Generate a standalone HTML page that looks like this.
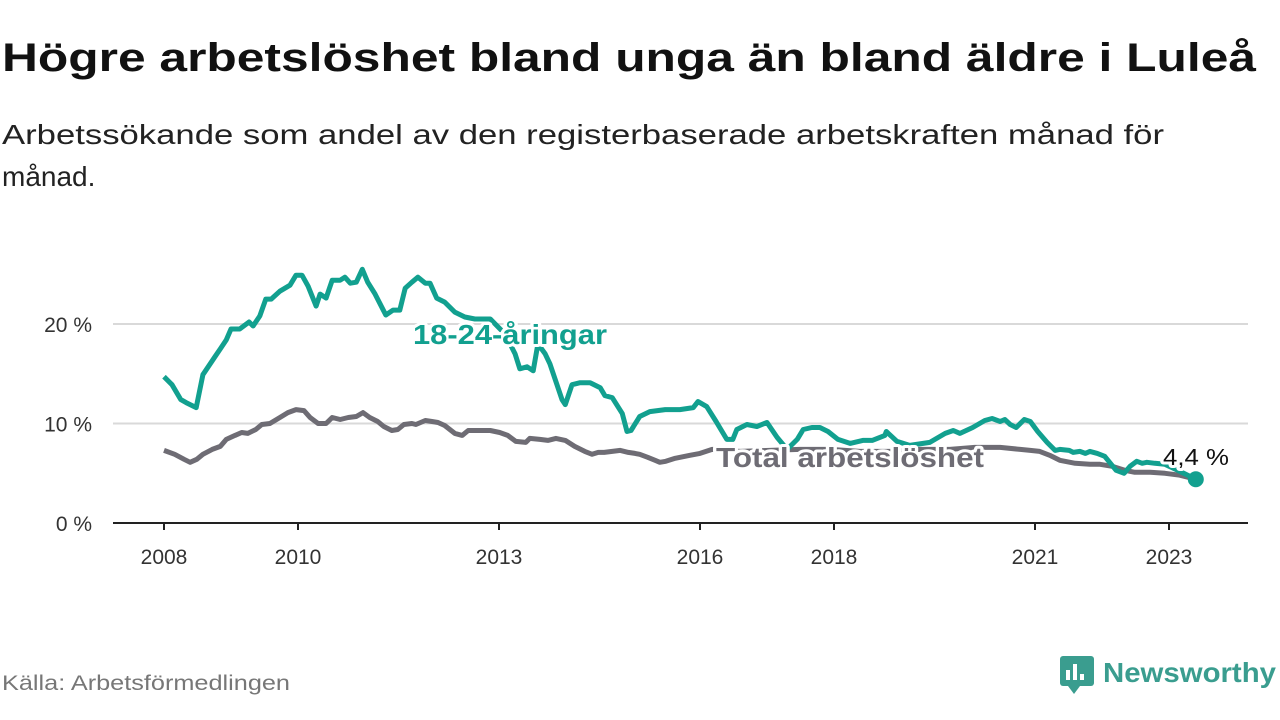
<!DOCTYPE html>
<html><head><meta charset="utf-8"><style>
body{margin:0;background:#fff;width:1280px;height:720px;overflow:hidden}
svg{display:block;font-family:"Liberation Sans","DejaVu Sans",sans-serif}
</style></head><body>
<svg id="chart" width="1280" height="720">
<text x="2" y="71" font-size="40" font-weight="bold" fill="#111" textLength="1254" lengthAdjust="spacingAndGlyphs">Högre arbetslöshet bland unga än bland äldre i Luleå</text>
<text x="2" y="144" font-size="28" fill="#222" textLength="1162" lengthAdjust="spacingAndGlyphs">Arbetssökande som andel av den registerbaserade arbetskraften månad för</text>
<text x="2" y="186" font-size="28" fill="#222">månad.</text>
<g id="grid"></g>
<g id="lines"></g>
<g id="labels"></g>
<text x="2" y="690" font-size="21" fill="#777" textLength="288" lengthAdjust="spacingAndGlyphs">Källa: Arbetsförmedlingen</text>
<g>
<rect x="1060" y="656" width="34" height="30" rx="3" fill="#3a9d8f"/>
<path d="M1068 686 L1074 694 L1080 686 Z" fill="#3a9d8f"/>
<rect x="1066" y="670" width="4" height="10" fill="#fff"/><rect x="1073" y="664" width="4" height="16" fill="#fff"/><rect x="1080" y="674" width="4" height="6" fill="#fff"/>
<text x="1103" y="682" font-size="28" font-weight="bold" fill="#3a9d8f" textLength="173" lengthAdjust="spacingAndGlyphs">Newsworthy</text>
</g>
</svg>
<script>
const yTicks=[0,10,20];
const yTickLabels=["0 %","10 %","20 %"];
const xTicks=[2008,2010,2013,2016,2018,2021,2023];
const youthDates=[2008.00,2008.12,2008.25,2008.33,2008.48,2008.58,2008.76,2008.84,2008.93,2009.00,2009.13,2009.27,2009.33,2009.43,2009.52,2009.60,2009.73,2009.88,2009.97,2010.06,2010.15,2010.27,2010.33,2010.42,2010.51,2010.63,2010.70,2010.78,2010.87,2010.96,2011.04,2011.15,2011.31,2011.42,2011.52,2011.60,2011.70,2011.79,2011.90,2011.97,2012.07,2012.19,2012.34,2012.49,2012.64,2012.87,2013.09,2013.24,2013.31,2013.42,2013.51,2013.58,2013.69,2013.76,2013.94,2013.99,2014.09,2014.21,2014.36,2014.51,2014.58,2014.69,2014.84,2014.91,2014.97,2015.10,2015.25,2015.48,2015.70,2015.90,2015.97,2016.10,2016.24,2016.40,2016.49,2016.55,2016.70,2016.85,2017.00,2017.15,2017.30,2017.45,2017.54,2017.67,2017.79,2017.91,2018.06,2018.24,2018.43,2018.57,2018.76,2018.78,2018.94,2019.13,2019.43,2019.66,2019.78,2019.88,2020.07,2020.25,2020.36,2020.48,2020.55,2020.63,2020.72,2020.84,2020.93,2021.04,2021.18,2021.30,2021.37,2021.51,2021.57,2021.67,2021.75,2021.82,2021.93,2022.04,2022.21,2022.33,2022.42,2022.52,2022.60,2022.67,2022.79,2022.94,2023.10,2023.40];
const youthValues=[14.7,13.9,12.4,12.1,11.6,14.9,16.7,17.5,18.4,19.5,19.5,20.2,19.8,20.8,22.5,22.5,23.3,23.9,24.9,24.9,23.8,21.8,23.0,22.6,24.4,24.4,24.7,24.1,24.2,25.5,24.2,23.0,20.9,21.4,21.4,23.6,24.2,24.7,24.1,24.1,22.6,22.2,21.2,20.7,20.5,20.5,19.0,17.0,15.5,15.7,15.3,18.0,17.0,16.0,12.4,11.9,13.9,14.1,14.1,13.6,12.8,12.6,11.0,9.2,9.3,10.7,11.2,11.4,11.4,11.6,12.2,11.7,10.2,8.4,8.4,9.4,9.9,9.7,10.1,8.6,7.4,8.4,9.4,9.6,9.6,9.2,8.4,8.0,8.3,8.3,8.8,9.2,8.2,7.8,8.1,9.0,9.3,9.0,9.6,10.3,10.5,10.2,10.4,9.9,9.6,10.4,10.2,9.2,8.1,7.3,7.4,7.3,7.1,7.2,7.0,7.2,7.0,6.7,5.3,5.0,5.7,6.2,6.0,6.1,6.0,5.9,5.4,4.4];
const totalDates=[2008.00,2008.16,2008.30,2008.39,2008.49,2008.58,2008.72,2008.84,2008.93,2009.06,2009.16,2009.25,2009.37,2009.46,2009.58,2009.73,2009.85,2009.97,2010.09,2010.18,2010.30,2010.42,2010.51,2010.63,2010.75,2010.87,2010.97,2011.07,2011.19,2011.28,2011.40,2011.49,2011.58,2011.70,2011.76,2011.90,2012.00,2012.09,2012.19,2012.34,2012.45,2012.54,2012.72,2012.87,2013.01,2013.13,2013.25,2013.40,2013.46,2013.61,2013.73,2013.85,2013.99,2014.13,2014.28,2014.39,2014.48,2014.57,2014.69,2014.81,2014.93,2015.03,2015.10,2015.22,2015.33,2015.40,2015.49,2015.63,2015.85,2016.00,2016.18,2016.60,2017.04,2017.49,2017.94,2018.39,2018.84,2019.28,2019.73,2020.10,2020.48,2020.78,2020.93,2021.07,2021.22,2021.37,2021.60,2021.82,2021.97,2022.15,2022.34,2022.49,2022.72,2022.94,2023.16,2023.40];
const totalValues=[7.3,6.9,6.4,6.1,6.4,6.9,7.4,7.7,8.4,8.8,9.1,9.0,9.4,9.9,10.0,10.6,11.1,11.4,11.3,10.6,10.0,10.0,10.6,10.4,10.6,10.7,11.1,10.6,10.2,9.7,9.3,9.4,9.9,10.0,9.9,10.3,10.2,10.1,9.8,9.0,8.8,9.3,9.3,9.3,9.1,8.8,8.2,8.1,8.5,8.4,8.3,8.5,8.3,7.7,7.2,6.9,7.1,7.1,7.2,7.3,7.1,7.0,6.9,6.6,6.3,6.1,6.2,6.5,6.8,7.0,7.4,7.2,7.3,7.4,7.4,7.2,7.2,7.4,7.4,7.6,7.6,7.4,7.3,7.2,6.8,6.3,6.0,5.9,5.9,5.7,5.3,5.1,5.1,5.0,4.8,4.4];
const NS="http://www.w3.org/2000/svg";
const X=y=>164+(y-2008)*67;
const Y=v=>523-v*9.95;
function mk(tag,attrs,parent){const e=document.createElementNS(NS,tag);for(const k in attrs)e.setAttribute(k,attrs[k]);parent.appendChild(e);return e;}
const grid=document.getElementById('grid');
yTicks.forEach((t,i)=>{
  if(t>0){const l=mk('line',{x1:113,x2:1248,y1:Y(t),y2:Y(t),stroke:'#d9d9d9','stroke-width':2},grid);
  
  }
  const tx=mk('text',{x:92,y:Y(t)+8,'font-size':21,fill:'#333','text-anchor':'end'},grid);
  tx.textContent=yTickLabels[i];
  
  
});
const ax=mk('line',{x1:113,x2:1248,y1:Y(0),y2:Y(0),stroke:'#222','stroke-width':2},grid);


xTicks.forEach(t=>{
  const tk=mk('line',{x1:X(t),x2:X(t),y1:Y(0),y2:Y(0)+7,stroke:'#222','stroke-width':2},grid);
  
  
  const tx=mk('text',{x:X(t),y:564,'font-size':21,fill:'#333','text-anchor':'middle'},grid);
  tx.textContent=t;
  
  
});
const lines=document.getElementById('lines');
function path(d,v){return d.map((x,i)=>(i?'L':'M')+X(x).toFixed(1)+' '+Y(v[i]).toFixed(1)).join(' ');}
const pt=mk('path',{d:path(totalDates,totalValues),fill:'none',stroke:'#6e6c74','stroke-width':5,'stroke-linejoin':'round'},lines);


const py=mk('path',{d:path(youthDates,youthValues),fill:'none',stroke:'#12a08f','stroke-width':5,'stroke-linejoin':'round'},lines);


const lastI=youthDates.length-1;
const dot=mk('circle',{cx:X(youthDates[lastI]),cy:Y(youthValues[lastI]),r:8,fill:'#12a08f'},lines);


const labels=document.getElementById('labels');
function lab(txt,x,y,col,name,bold,size,len){const a={x:x,y:y,'font-size':size,'font-weight':bold?'bold':'normal',fill:col,stroke:'#fff','stroke-width':6,'paint-order':'stroke','stroke-linejoin':'round'};if(len){a.textLength=len;a.lengthAdjust='spacingAndGlyphs';}const t=mk('text',a,labels);t.textContent=txt;

}
lab('18-24-åringar',413,344,'#12a08f','youth-series-label',true,28,194);
lab('Total arbetslöshet',716,467,'#6e6c74','total-series-label',true,28,268);
lab('4,4 %',1163,465,'#111','last-value-label',false,23,66);
</script>
</body></html>
